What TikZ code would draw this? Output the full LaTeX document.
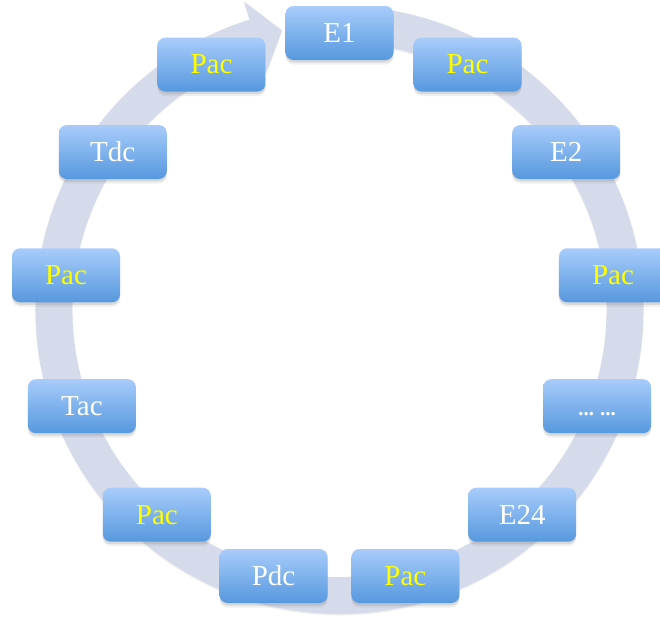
\documentclass[tikz,border=0pt]{standalone}
\usepackage{fontspec}
\setmainfont{Liberation Serif}
\usetikzlibrary{shadows,calc}
\definecolor{ringc}{RGB}{214,219,235}
\definecolor{boxtop}{RGB}{168,204,251}
\definecolor{boxbot}{RGB}{86,152,222}
\definecolor{paccol}{RGB}{255,255,0}
\newcommand{\mydots}{\vphantom{E}{\fontsize{21}{23}\selectfont\bfseries ...\hspace{6pt}...}}
\begin{document}
\begin{tikzpicture}[x=1pt,y=1pt,
  box/.style={rectangle, rounded corners=8pt, minimum width=108pt, minimum height=54pt,
    inner sep=0pt, top color=boxtop, bottom color=boxbot,
    font=\fontsize{29}{31}\selectfont, text=white,
    drop shadow={shadow xshift=0pt, shadow yshift=-4.5pt, opacity=0.12},
    drop shadow={shadow xshift=0pt, shadow yshift=-2.5pt, opacity=0.2}},
  pac/.style={box, text=paccol},
  ringstyle/.style={fill=ringc,
    drop shadow={shadow xshift=0pt, shadow yshift=-1.5pt, opacity=0.12}}]
\useasboundingbox (0,0) rectangle (660,-625);
\clip (0,0) rectangle (660,-625);
\coordinate (O) at (339.5,-310);
\coordinate (C) at (339.5,-308.5);
% circular arrow
\path[ringstyle] ($(O)+(85:304pt)$) arc[start angle=85, end angle=-252.8, radius=304pt]
  -- ($(O)+(107.2:323pt)$) -- ($(O)+(101.6:285.5pt)$) -- ($(O)+(107.2:248pt)$)
  -- ($(O)+(107.2:267pt)$) arc[start angle=-252.8, end angle=85, radius=267pt] -- cycle;
% boxes
\foreach \st/\txt [count=\i from 0] in {box/E1, pac/Pac, box/E2, pac/Pac, box/\mydots, box/E24,
   pac/Pac, box/Pdc, pac/Pac, box/Tac, pac/Pac, box/Tdc, pac/Pac}{
  \node[\st] (n\i) at ($(C)+({90-27.6923*\i}:275.5pt)$) {\txt};
}
\end{tikzpicture}
\end{document}
